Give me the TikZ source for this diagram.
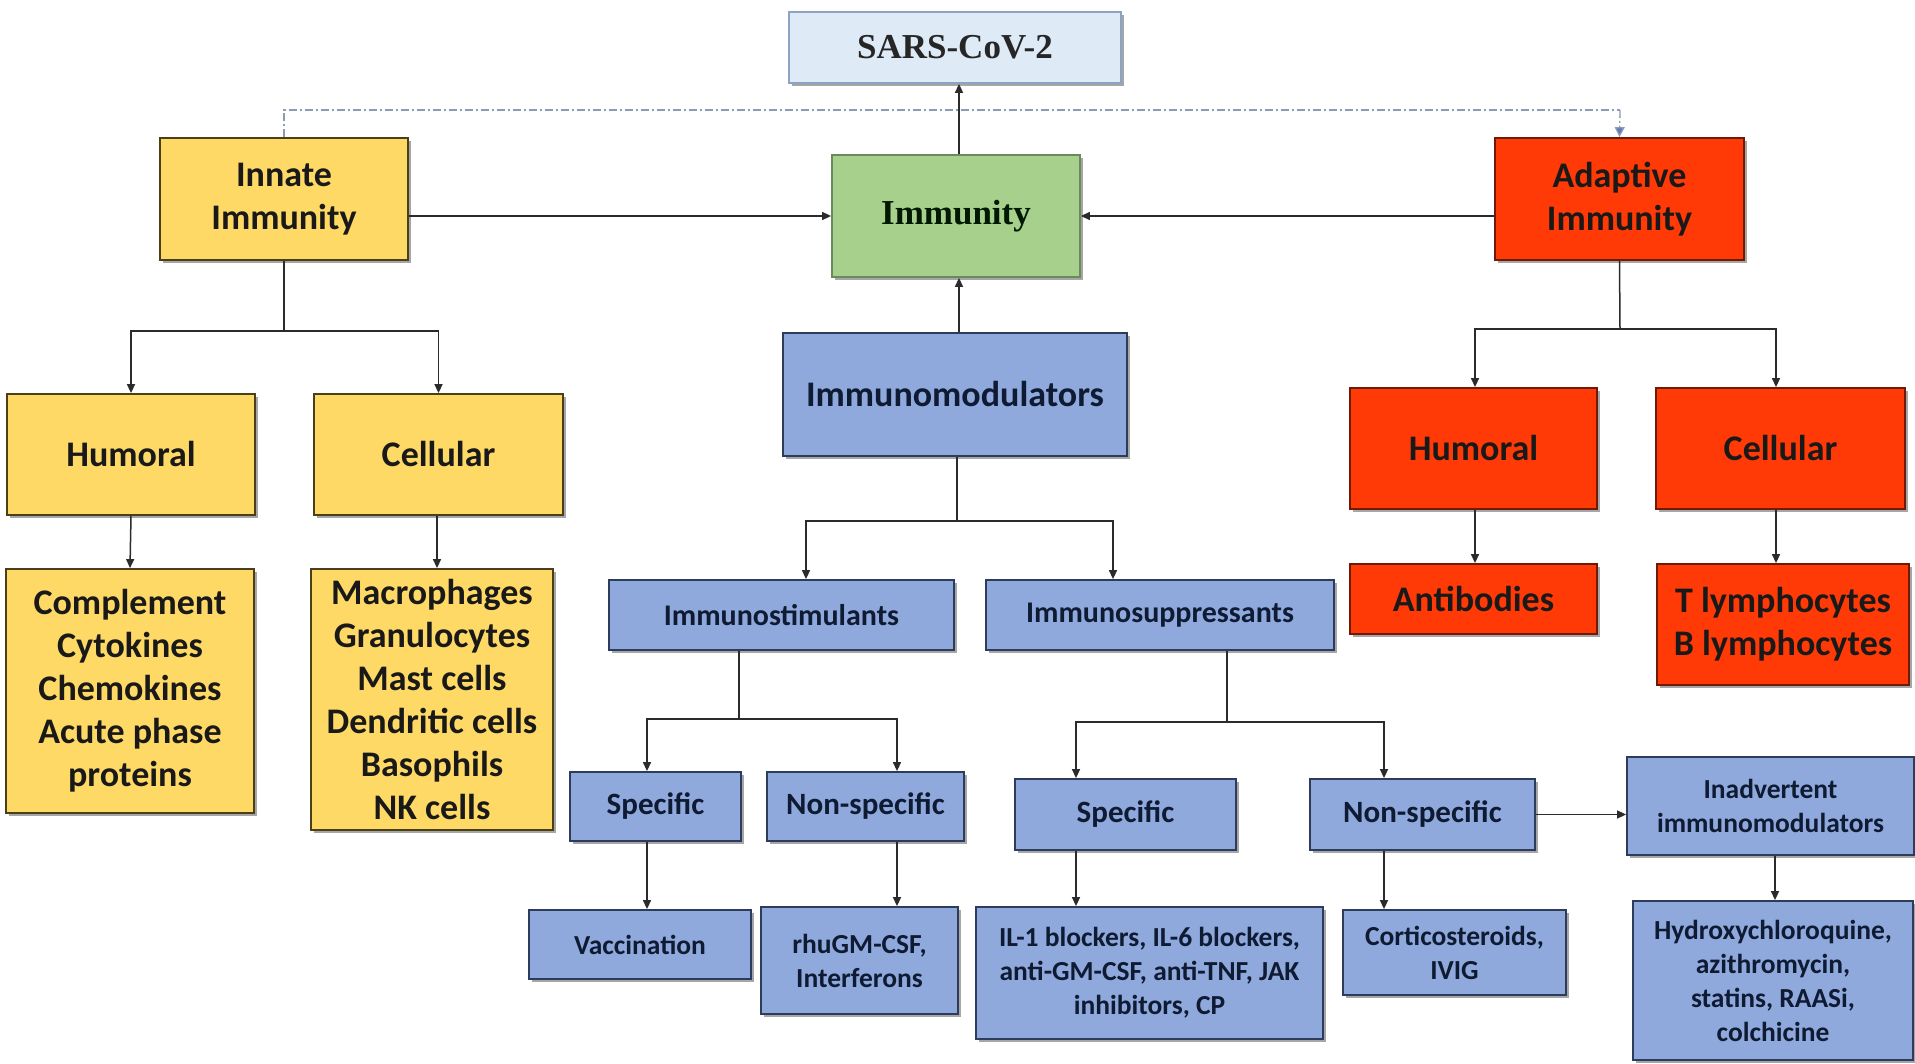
\documentclass[tikz,border=0pt]{standalone}
\usepackage{fontspec}
\setmainfont{Carlito}
\newfontfamily\serifbold{Liberation Serif}
\usetikzlibrary{arrows.meta,shadows}

\definecolor{yfill}{HTML}{FFD966}
\definecolor{ydraw}{HTML}{4A3F18}
\definecolor{rfill}{HTML}{FF3A06}
\definecolor{rdraw}{HTML}{6E1A05}
\definecolor{bfill}{HTML}{8FA9DC}
\definecolor{bdraw}{HTML}{2E3C5C}
\definecolor{gfill}{HTML}{A8D08D}
\definecolor{gdraw}{HTML}{6B8A5A}
\definecolor{sfill}{HTML}{DEEBF7}
\definecolor{sdraw}{HTML}{8EA3C4}
\definecolor{linec}{HTML}{2B2B2B}
\definecolor{dashc}{HTML}{8E9BB5}
\definecolor{dashtip}{HTML}{5B79B8}
\definecolor{btext}{HTML}{0F1A33}

\tikzset{
  x=1pt, y=-1pt,
  box/.style={rectangle, draw, line width=1.8pt, align=center, inner sep=2pt,
    drop shadow={shadow xshift=2.5pt, shadow yshift=-3pt, fill=black, opacity=0.35}},
  big/.style={font=\fontsize{36}{43}\selectfont\bfseries},
  mid/.style={font=\fontsize{31}{36}\selectfont\bfseries},
  small/.style={font=\fontsize{27.5}{34}\selectfont\bfseries},
  ybox/.style={box, big, fill=yfill, draw=ydraw, text=black!90},
  rbox/.style={box, big, fill=rfill, draw=rdraw, text=black!90},
  bbox/.style={box, fill=bfill, draw=bdraw, text=btext},
  sz/.style 2 args={minimum width=#1pt, minimum height=#2pt},
  arr/.style={draw=linec, line width=1.5pt, -{Triangle[length=9pt,width=8pt]}},
  link/.style={draw=linec, line width=1.5pt},
}

\begin{document}
\begin{tikzpicture}
\useasboundingbox[fill=white] (0,0) rectangle (1915,1064);

% top level
\node[box, fill=sfill, draw=sdraw, text=black!85, sz={332}{71},
      font=\fontsize{35}{40}\selectfont\serifbold\bfseries] (sars) at (955,47.5) {SARS-CoV-2};
\node[box, fill=gfill, draw=gdraw, text=black!90!green, sz={248}{122},
      font=\fontsize{35}{40}\selectfont\serifbold\bfseries] (imm) at (956,216) {Immunity};
\node[ybox, sz={248}{122}] (innate) at (284,199) {Innate\\Immunity};
\node[rbox, sz={249}{122}] (adapt) at (1619.5,199) {Adaptive\\Immunity};
\node[bbox, big, sz={344}{123}] (mod) at (955,394.5) {Immunomodulators};

% innate branch
\node[ybox, sz={248}{121}] (hum1) at (131,454.5) {Humoral};
\node[ybox, sz={249}{121}] (cel1) at (438.5,454.5) {Cellular};
\node[ybox, sz={248}{244}] (comp) at (130,691) {Complement\\Cytokines\\Chemokines\\Acute phase\\proteins};
\node[ybox, sz={242}{261}] (macro) at (432,699.5) {Macrophages\\Granulocytes\\Mast cells\\Dendritic cells\\Basophils\\NK cells};

% adaptive branch
\node[rbox, sz={247}{121}] (hum2) at (1473.5,448.5) {Humoral};
\node[rbox, sz={249}{121}] (cel2) at (1780.5,448.5) {Cellular};
\node[rbox, sz={247}{70}] (abs) at (1473.5,599) {Antibodies};
\node[rbox, sz={252}{121}] (lymph) at (1783,624.5) {T lymphocytes\\B lymphocytes};

% immunomodulator branch
\node[bbox, font=\fontsize{30}{36}\selectfont\bfseries, sz={345}{70}] (stim) at (781.5,615) {Immunostimulants};
\node[bbox, font=\fontsize{30}{36}\selectfont\bfseries, sz={348}{70}] (supp) at (1160,615) {Immunosuppressants};

\node[bbox, mid, sz={171}{69}] (spec1) at (655.5,806.5) {Specific};
\node[bbox, mid, sz={197}{69}] (nons1) at (865.5,806.5) {Non-specific};
\node[bbox, small, sz={222}{69}] (vacc) at (640,944.5) {Vaccination};
\node[bbox, small, sz={197}{107}] (rhu) at (859.5,960.5) {rhuGM-CSF,\\Interferons};

\node[bbox, mid, sz={221}{71}] (spec2) at (1125.5,814.5) {Specific};
\node[bbox, mid, sz={225}{71}] (nons2) at (1422.5,814.5) {Non-specific};
\node[bbox, small, sz={347}{132}] (il) at (1149.5,973) {IL-1 blockers, IL-6 blockers,\\anti-GM-CSF, anti-TNF, JAK\\inhibitors, CP};
\node[bbox, small, sz={223}{85}] (cort) at (1454.5,952.5) {Corticosteroids,\\IVIG};
\node[bbox, small, sz={287}{98}] (inad) at (1770.5,806) {Inadvertent\\immunomodulators};
\node[bbox, small, sz={280}{159}] (hcq) at (1773,980.5) {Hydroxychloroquine,\\azithromycin,\\statins, RAASi,\\colchicine};

% branching points
\coordinate (jI) at (284,331);
\coordinate (jA) at (1620,329);
\coordinate (jM) at (957,521);
\coordinate (jS) at (739,719);
\coordinate (jP) at (1227,722);
\coordinate (dL) at (284,110);
\coordinate (dR) at (1620,110);

% dashed link between the two arms of immunity
\draw[dashc, line width=1.3pt, dash pattern=on 8pt off 3pt on 2pt off 3pt]
  (innate.north) -- (dL) -- (dR);
\draw[dashc, line width=1.3pt, dash pattern=on 8pt off 3pt on 2pt off 3pt,
      -{Triangle[length=10pt,width=10pt,fill=dashtip]}] (dR) -- (adapt.north);

% connectors into Immunity and SARS-CoV-2
\path[arr] (imm.north -| 959,0) -- (sars.south -| 959,0);
\path[arr] (mod.north -| 959,0) -- (imm.south -| 959,0);
\path[arr] (innate.east |- imm.west) -- (imm.west);
\path[arr] (adapt.west |- imm.east) -- (imm.east);

% innate tree
\path[link] (innate.south) -- (jI);
\path[arr] (jI) -| (hum1.north);
\path[arr] (jI) -| (cel1.north);
\path[arr] (hum1.south) -- (comp.north);
\path[arr] (cel1.south -| 437,0) -- (macro.north -| 437,0);

% adaptive tree
\path[link] (adapt.south) -- (jA);
\path[arr] (jA) -| (hum2.north -| 1475,0);
\path[arr] (jA) -| (cel2.north -| 1776,0);
\path[arr] (hum2.south -| 1475,0) -- (abs.north -| 1475,0);
\path[arr] (cel2.south -| 1776,0) -- (lymph.north -| 1776,0);

% immunomodulator tree
\path[link] (mod.south -| jM) -- (jM);
\path[arr] (jM) -| (stim.north -| 806,0);
\path[arr] (jM) -| (supp.north -| 1113,0);

\path[link] (stim.south -| jS) -- (jS);
\path[arr] (jS) -| (spec1.north -| 647,0);
\path[arr] (jS) -| (nons1.north -| 897,0);
\path[arr] (spec1.south -| 647,0) -- (vacc.north -| 647,0);
\path[arr] (nons1.south -| 897,0) -- (rhu.north -| 897,0);

\path[link] (supp.south -| jP) -- (jP);
\path[arr] (jP) -| (spec2.north -| 1076,0);
\path[arr] (jP) -| (nons2.north -| 1384,0);
\path[arr] (spec2.south -| 1076,0) -- (il.north -| 1076,0);
\path[arr] (nons2.south -| 1384,0) -- (cort.north -| 1384,0);
\path[arr] (nons2.east) -- (inad.west |- nons2.east);
\path[arr] (inad.south -| 1775,0) -- (hcq.north -| 1775,0);
\end{tikzpicture}
\end{document}
